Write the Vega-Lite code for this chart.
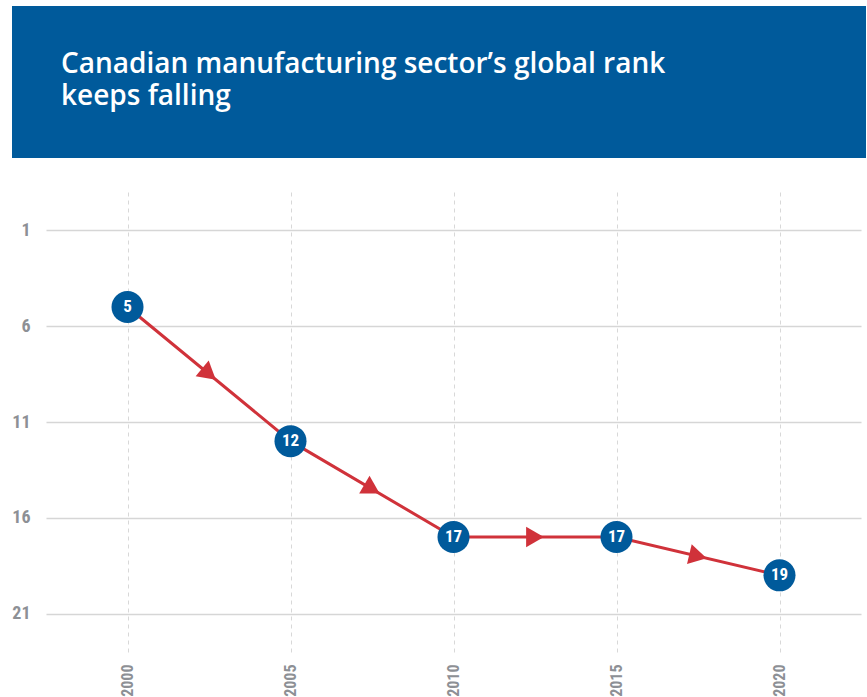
{
  "$schema": "https://vega.github.io/schema/vega-lite/v6.json",
  "background": "white",
  "padding": {"left": 11, "top": 6, "right": 0, "bottom": 0},
  "spacing": 34,
  "config": {"view": {"stroke": null}, "font": "Lato"},
  "datasets": {
    "ranks": [
      {"year": 2000, "rank": 5},
      {"year": 2005, "rank": 12},
      {"year": 2010, "rank": 17},
      {"year": 2015, "rank": 17},
      {"year": 2020, "rank": 19}
    ],
    "arrows": [
      {"year": 2002.5, "rank": 8.5, "direction": 39.5},
      {"year": 2007.5, "rank": 14.5, "direction": 30.4},
      {"year": 2012.5, "rank": 17, "direction": 0},
      {"year": 2017.5, "rank": 18, "direction": 13.2}
    ],
    "banner": [{"label": "banner"}]
  },
  "vconcat": [
    {
      "width": 854,
      "height": 152,
      "data": {"name": "banner"},
      "mark": {"type": "rect", "color": "#005a9b"},
      "title": {
        "text": ["Canadian manufacturing sector’s global rank", "keeps falling"],
        "anchor": "start",
        "frame": "group",
        "orient": "top",
        "offset": -127,
        "dx": 49,
        "baseline": "alphabetic",
        "color": "white",
        "font": "Open Sans",
        "fontSize": 28,
        "fontWeight": 600,
        "lineHeight": 32
      }
    },
    {
      "width": 854,
      "height": 460,
      "encoding": {
        "x": {
          "field": "year",
          "type": "quantitative",
          "scale": {"domain": [1997.5, 2022.5], "range": [34, 849], "nice": false, "zero": false},
          "axis": {
            "title": null,
            "values": [2000, 2005, 2010, 2015, 2020],
            "format": "d",
            "labelAngle": -90,
            "labelPadding": 12,
            "labelFont": "Roboto Condensed, DejaVu Sans Condensed, Roboto",
            "labelFontSize": 16,
            "labelFontWeight": "bold",
            "labelColor": "#8d9095",
            "domain": false,
            "ticks": false,
            "grid": true,
            "gridDash": [4, 4],
            "gridColor": "#d8d8d8",
            "gridWidth": 1
          }
        },
        "y": {
          "field": "rank",
          "type": "quantitative",
          "scale": {"domain": [-1, 23], "reverse": true, "nice": false, "zero": false},
          "axis": {
            "title": null,
            "values": [1, 6, 11, 16, 21],
            "offset": -34,
            "labelPadding": 16,
            "labelFont": "Roboto Condensed, DejaVu Sans Condensed, Roboto",
            "labelFontSize": 18,
            "labelFontWeight": "bold",
            "labelColor": "#8d9095",
            "domain": false,
            "ticks": false,
            "grid": true,
            "gridColor": "#d6d6d6",
            "gridWidth": 1.5,
            "minExtent": 0
          }
        }
      },
      "layer": [
        {
          "data": {"name": "ranks"},
          "mark": {"type": "line", "color": "#d0323a", "strokeWidth": 3}
        },
        {
          "data": {"name": "arrows"},
          "mark": {"type": "point", "shape": "triangle-right", "filled": true, "color": "#d0323a", "size": 420, "opacity": 1},
          "encoding": {
            "angle": {"field": "direction", "type": "quantitative", "scale": null}
          }
        },
        {
          "data": {"name": "ranks"},
          "mark": {"type": "circle", "color": "#005a9b", "size": 1024, "opacity": 1}
        },
        {
          "data": {"name": "ranks"},
          "mark": {"type": "text", "color": "white", "font": "Roboto Condensed, DejaVu Sans Condensed, Roboto", "fontSize": 17, "fontWeight": "bold", "baseline": "middle", "align": "center"},
          "encoding": {"text": {"field": "rank", "type": "quantitative"}}
        }
      ]
    }
  ]
}
